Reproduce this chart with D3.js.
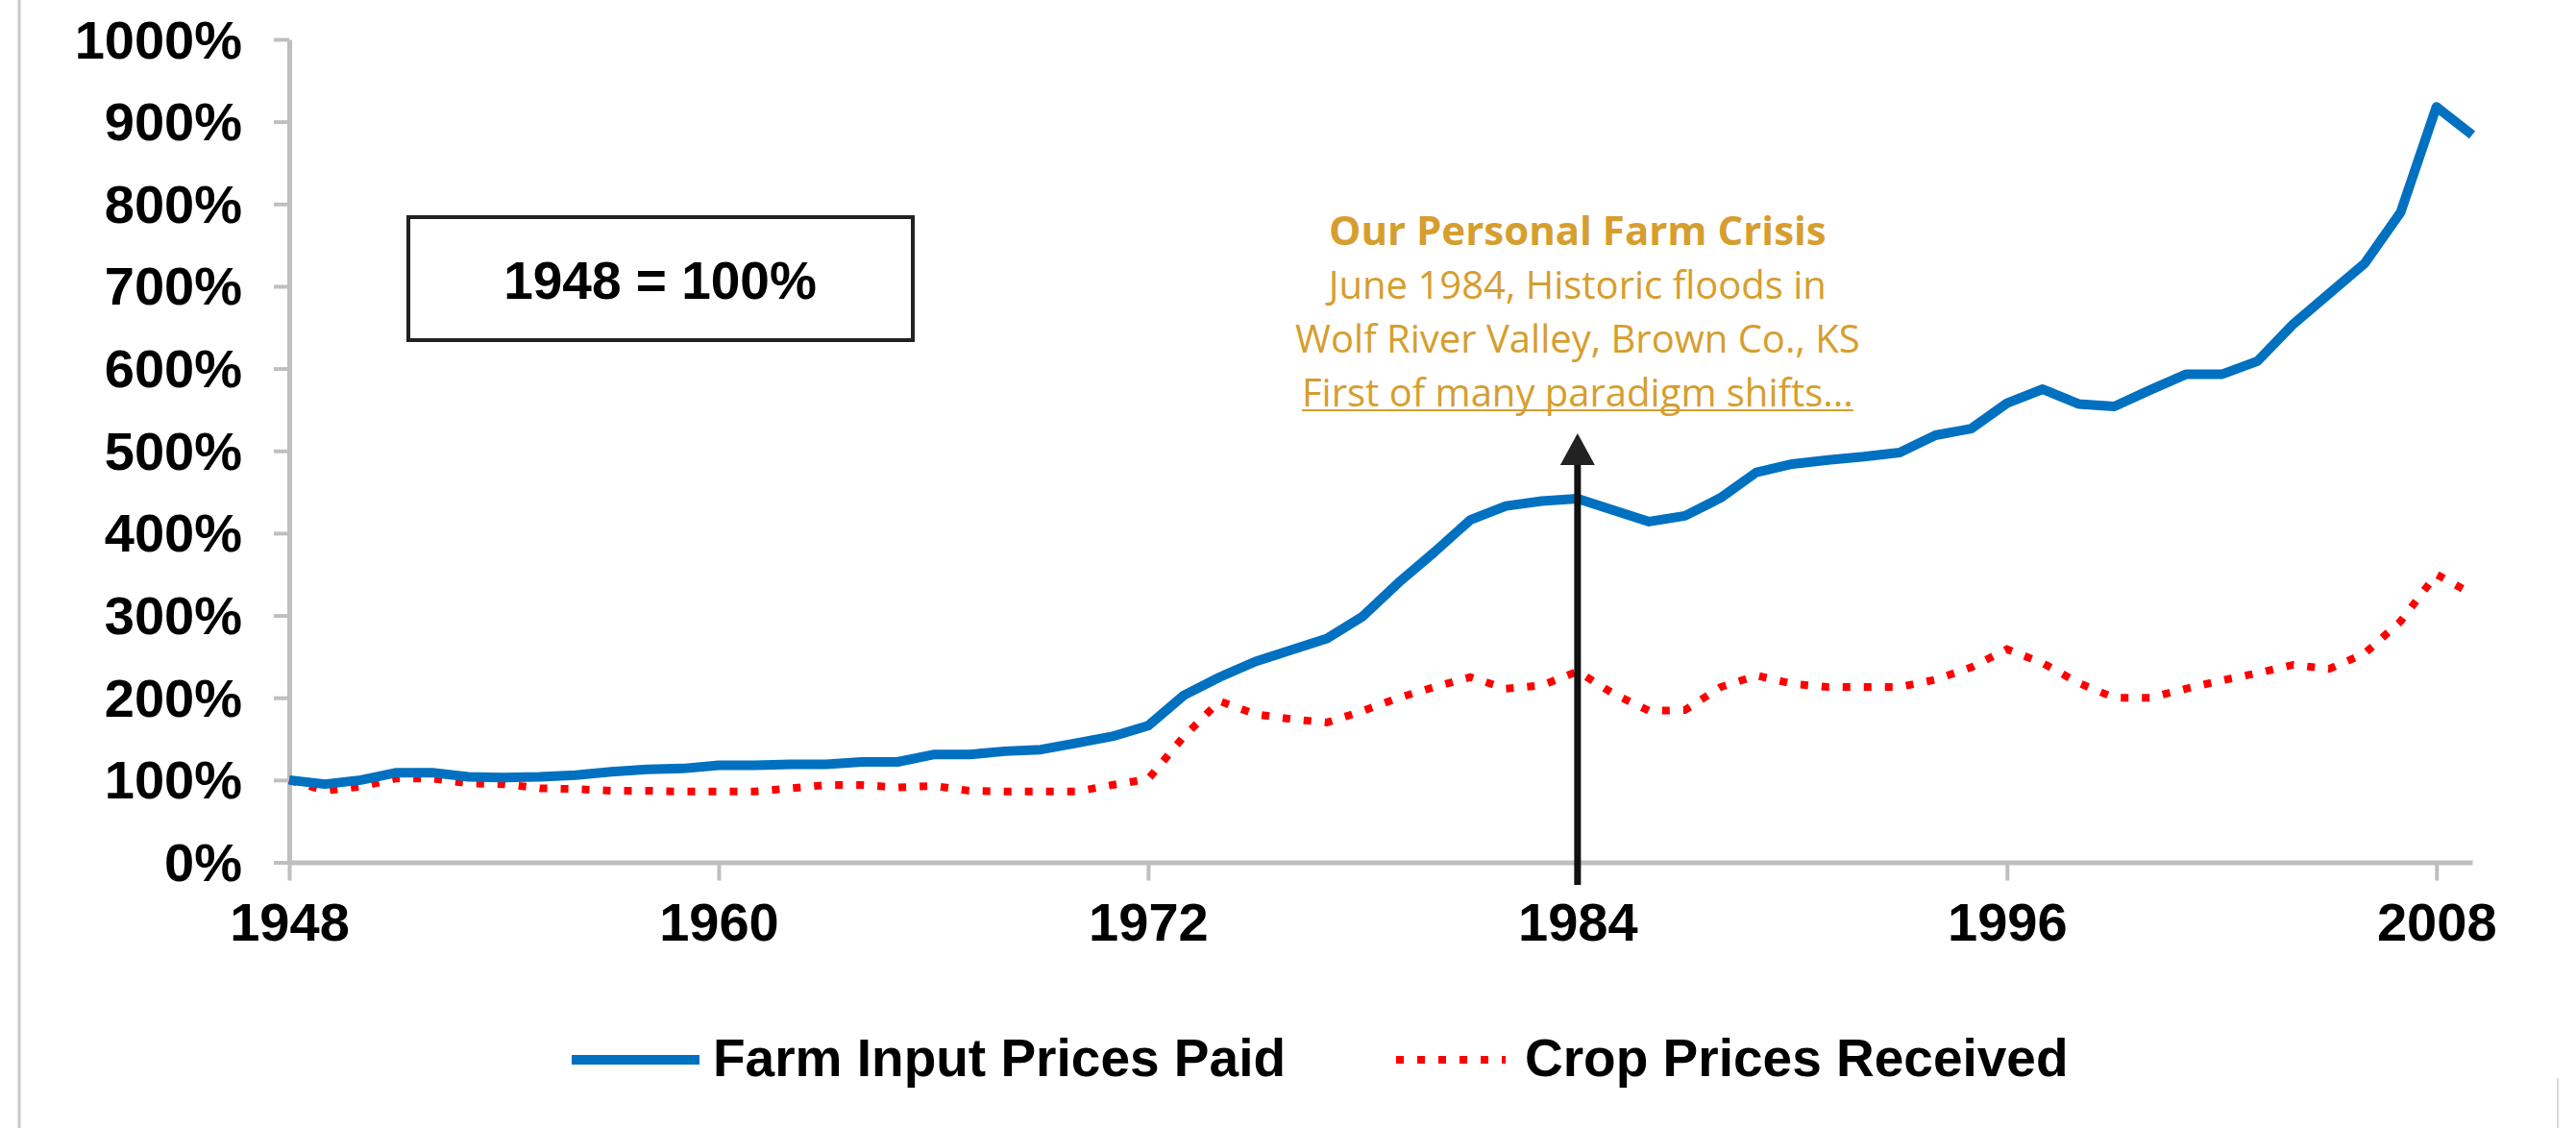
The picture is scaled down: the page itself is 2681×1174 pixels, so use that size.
<!DOCTYPE html>
<html>
<head>
<meta charset="utf-8">
<script src="https://cdn.jsdelivr.net/npm/d3@7"></script>
<style>
  body { margin: 0; background: #fff; }
  svg { display: block; }
</style>
</head>
<body>
<script>
// values, 1948 = 100%
const years = d3.range(1948, 2010)

const inputPaid = [
  100, 95, 100, 109, 109, 104, 103, 104, 106, 110,
  113, 114, 118, 118, 119, 119, 122, 122, 131, 131,
  135, 137, 145, 153, 166, 203, 225, 244, 258, 272,
  299, 340, 377, 416, 433, 439, 442, 428, 414, 421,
  443, 474, 484, 489, 493, 498, 519, 527, 558, 575,
  557, 554, 574, 593, 593, 609, 654, 691, 728, 790,
  918, 884
]

const cropReceived = [
  100, 87, 92, 102, 102, 96, 95, 90, 89, 87,
  87, 86, 86, 86, 90, 94, 94, 91, 93, 87,
  86, 86, 86, 94, 101, 153, 196, 180, 174, 170,
  184, 200, 213, 225, 211, 215, 232, 205, 184, 185,
  213, 227, 217, 213, 213, 213, 222, 237, 259, 242,
  218, 200, 200, 211, 221, 230, 240, 235, 254, 293,
  350, 326
]

const yTicks = [0, 100, 200, 300, 400, 500, 600, 700, 800, 900, 1000]
const xTicks = [1948, 1960, 1972, 1984, 1996, 2008]

const seriesNames = ["Farm Input Prices Paid", "Crop Prices Received"]
const noteTitle = "Our Personal Farm Crisis"
const noteLines = [
  "June 1984, Historic floods in",
  "Wolf River Valley, Brown Co., KS",
  "First of many paradigm shifts..."
]

const width = 2681, height = 1174
const blue = "#0070c0", red = "#ff0000", gold = "#d69e2e", axisGray = "#bfbfbf"

const svg = d3.select("body").append("svg")
    .attr("width", width)
    .attr("height", height)

svg.append("rect").attr("width", width).attr("height", height).attr("fill", "#fff")

// thin page borders
svg.append("line")
    .attr("x1", 20).attr("x2", 20).attr("y1", 0).attr("y2", height)
    .attr("stroke", "#c8c8c8").attr("stroke-width", 3)
svg.append("line")
    .attr("x1", 2662).attr("x2", 2662).attr("y1", 1122).attr("y2", height)
    .attr("stroke", "#d8d8d8").attr("stroke-width", 2)

const x = d3.scaleLinear().domain([1948, 2009]).range([301, 2573])
const y = d3.scaleLinear().domain([0, 1000]).range([897.5, 41])

const tickFont = "'Liberation Sans', Arial, sans-serif"

const yAxis = svg.append("g")
    .attr("transform", `translate(${x(1948)},0)`)
    .call(d3.axisLeft(y).tickValues(yTicks).tickFormat(d => d + "%")
      .tickSize(16).tickSizeOuter(0).tickPadding(33))
yAxis.select(".domain").attr("stroke", axisGray).attr("stroke-width", 5)
yAxis.selectAll(".tick line").attr("stroke", axisGray).attr("stroke-width", 4)
yAxis.selectAll(".tick text")
    .attr("font-family", tickFont).attr("font-weight", "bold")
    .attr("font-size", 56).attr("fill", "#000").attr("dy", "0.34em")

const xAxis = svg.append("g")
    .attr("transform", `translate(0,${y(0)})`)
    .call(d3.axisBottom(x).tickValues(xTicks).tickFormat(d3.format("d"))
      .tickSize(19).tickSizeOuter(0).tickPadding(23))
xAxis.select(".domain").attr("stroke", axisGray).attr("stroke-width", 5)
xAxis.selectAll(".tick line").attr("stroke", axisGray).attr("stroke-width", 4)
xAxis.selectAll(".tick text")
    .attr("font-family", tickFont).attr("font-weight", "bold")
    .attr("font-size", 56).attr("fill", "#000")

const line = d3.line()
    .x((d, i) => x(years[i]))
    .y(d => y(d))

svg.append("path")
    .datum(cropReceived)
    .attr("fill", "none")
    .attr("stroke", red)
    .attr("stroke-width", 8)
    .attr("stroke-dasharray", "8,14")
    .attr("d", line)

svg.append("path")
    .datum(inputPaid)
    .attr("fill", "none")
    .attr("stroke", blue)
    .attr("stroke-width", 10)
    .attr("stroke-linejoin", "round")
    .attr("d", line)

// "1948 = 100%" box
svg.append("rect")
    .attr("x", 425).attr("y", 226).attr("width", 525).attr("height", 128)
    .attr("fill", "#fff").attr("stroke", "#222").attr("stroke-width", 4)
svg.append("text")
    .attr("x", 687).attr("y", 292).attr("dy", "0.35em")
    .attr("text-anchor", "middle")
    .attr("font-family", tickFont).attr("font-weight", "bold").attr("font-size", 55)
    .text("1948 = 100%")

// annotation arrow at 1984
const ax = x(1984)
svg.append("line")
    .attr("x1", ax).attr("x2", ax).attr("y1", 921).attr("y2", 482)
    .attr("stroke", "#111").attr("stroke-width", 7)
svg.append("path")
    .attr("d", `M${ax},451L${ax + 18},484L${ax - 18},484Z`)
    .attr("fill", "#222")

const note = svg.append("g")
    .attr("font-family", "'Open Sans', sans-serif")
    .attr("font-size", 40)
    .attr("fill", gold)
    .attr("text-anchor", "middle")

note.append("text")
    .attr("x", ax).attr("y", 255)
    .attr("font-weight", "bold")
    .attr("font-size", 42)
    .text(noteTitle)

note.selectAll("text.line")
  .data(noteLines)
  .join("text")
    .attr("class", "line")
    .attr("x", ax)
    .attr("y", (d, i) => 311 + i * 56)
    .text(d => d)

const last = note.selectAll("text.line").filter((d, i) => i === noteLines.length - 1)
const bb = last.node().getBBox()
note.append("line")
    .attr("x1", bb.x).attr("x2", bb.x + bb.width)
    .attr("y1", 427).attr("y2", 427)
    .attr("stroke", gold).attr("stroke-width", 2)

// legend
const legend = svg.append("g")
    .attr("font-family", tickFont).attr("font-weight", "bold").attr("font-size", 55)

legend.append("line")
    .attr("x1", 595).attr("x2", 728).attr("y1", 1103).attr("y2", 1103)
    .attr("stroke", blue).attr("stroke-width", 10)
legend.append("text").attr("x", 742).attr("y", 1120).text(seriesNames[0])

legend.append("line")
    .attr("x1", 1453).attr("x2", 1567).attr("y1", 1103).attr("y2", 1103)
    .attr("stroke", red).attr("stroke-width", 8).attr("stroke-dasharray", "8,14")
legend.append("text").attr("x", 1587).attr("y", 1120).text(seriesNames[1])
</script>
</body>
</html>
